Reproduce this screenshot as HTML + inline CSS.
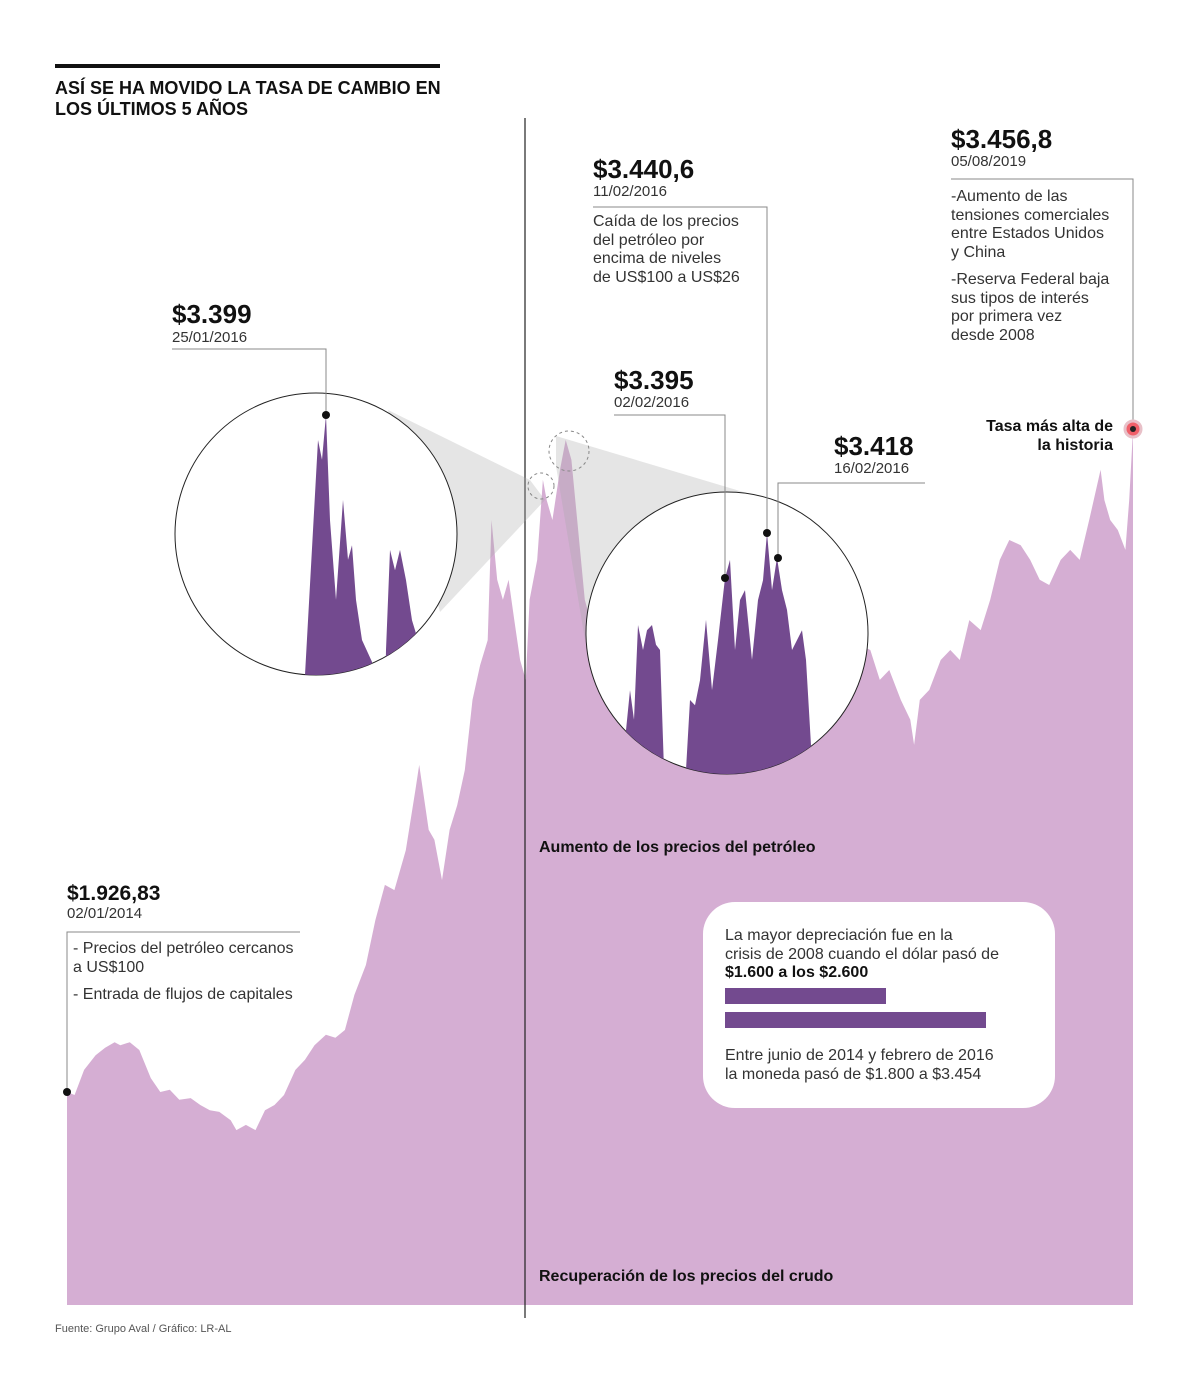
<!DOCTYPE html>
<html><head><meta charset="utf-8"><style>
html,body{margin:0;padding:0;background:#fff}
body{width:1200px;height:1400px;position:relative;overflow:hidden;font-family:"Liberation Sans",sans-serif;color:#111}
svg{position:absolute;left:0;top:0}
.t{position:absolute;white-space:nowrap}
.big{font-weight:bold;font-size:26px;line-height:28px}
.date{font-size:15px;line-height:16px;color:#333}
.body{font-size:16px;line-height:18.5px;color:#333}
.lbl{font-weight:bold;font-size:16px;line-height:19px}
</style></head><body>
<svg id="chart" width="1200" height="1400"></svg>

<div class="t" style="left:55px;top:78px;font-weight:bold;font-size:18px;line-height:21px">ASÍ SE HA MOVIDO LA TASA DE CAMBIO EN<br>LOS ÚLTIMOS 5 AÑOS</div>

<div class="t big" style="left:172px;top:300px">$3.399</div>
<div class="t date" style="left:172px;top:330px">25/01/2016</div>

<div class="t big" style="left:593px;top:155px">$3.440,6</div>
<div class="t date" style="left:593px;top:184px">11/02/2016</div>
<div class="t body" style="left:593px;top:213px">Caída de los precios<br>del petróleo por<br>encima de niveles<br>de US$100 a US$26</div>

<div class="t big" style="left:951px;top:125px">$3.456,8</div>
<div class="t date" style="left:951px;top:154px">05/08/2019</div>
<div class="t body" style="left:951px;top:188px">-Aumento de las<br>tensiones comerciales<br>entre Estados Unidos<br>y China</div>
<div class="t body" style="left:951px;top:271px">-Reserva Federal baja<br>sus tipos de interés<br>por primera vez<br>desde 2008</div>

<div class="t big" style="left:614px;top:366px">$3.395</div>
<div class="t date" style="left:614px;top:395px">02/02/2016</div>

<div class="t big" style="left:834px;top:432px">$3.418</div>
<div class="t date" style="left:834px;top:461px">16/02/2016</div>

<div class="t lbl" style="left:960px;top:417px;text-align:right;width:153px;line-height:19px">Tasa más alta de<br>la historia</div>

<div class="t" style="left:67px;top:882px;font-weight:bold;font-size:21px;line-height:24px">$1.926,83</div>
<div class="t date" style="left:67px;top:906px">02/01/2014</div>
<div class="t body" style="left:73px;top:940px">- Precios del petróleo cercanos<br>a US$100</div>
<div class="t body" style="left:73px;top:986px">- Entrada de flujos de capitales</div>

<div class="t lbl" style="left:539px;top:838px">Aumento de los precios del petróleo</div>
<div class="t lbl" style="left:539px;top:1267px">Recuperación de los precios del crudo</div>

<div class="t" style="left:703px;top:902px;width:352px;height:206px;background:#fff;border-radius:32px"></div>
<div class="t body" style="left:725px;top:927px">La mayor depreciación fue en la<br>crisis de 2008 cuando el dólar pasó de<br><b style="color:#111">$1.600 a los $2.600</b></div>
<div class="t" style="left:725px;top:988px;width:161px;height:16px;background:#734a8f"></div>
<div class="t" style="left:725px;top:1012px;width:261px;height:16px;background:#734a8f"></div>
<div class="t body" style="left:725px;top:1047px">Entre junio de 2014 y febrero de 2016<br>la moneda pasó de $1.800 a $3.454</div>

<div class="t" style="left:55px;top:1323px;font-size:11px;color:#555">Fuente: Grupo Aval / Gráfico: LR-AL</div>

<script>
const years=[2014.00,2014.04,2014.09,2014.15,2014.20,2014.25,2014.28,2014.33,2014.38,2014.44,2014.49,2014.54,2014.59,2014.65,2014.70,2014.75,2014.80,2014.86,2014.89,2014.94,2014.99,2015.04,2015.09,2015.14,2015.20,2015.25,2015.30,2015.36,2015.41,2015.46,2015.51,2015.57,2015.62,2015.67,2015.72,2015.78,2015.83,2015.85,2015.90,2015.93,2015.97,2016.01,2016.05,2016.09,2016.13,2016.17,2016.21,2016.23,2016.26,2016.29,2016.32,2016.35,2016.38,2016.41,2016.43,2016.47,2016.50,2016.52,2016.55,2016.59,2016.62,2016.65,2016.68,2016.72,2016.75,2016.80,2016.90,2017.06,2017.33,2017.59,2017.85,2018.11,2018.22,2018.27,2018.32,2018.38,2018.43,2018.45,2018.48,2018.53,2018.59,2018.64,2018.69,2018.74,2018.80,2018.85,2018.90,2018.95,2019.01,2019.06,2019.11,2019.16,2019.22,2019.27,2019.32,2019.37,2019.43,2019.45,2019.48,2019.52,2019.56,2019.58,2019.60];
const rates=[1927,1920,1978,2012,2029,2042,2035,2042,2024,1959,1927,1932,1909,1913,1897,1885,1881,1862,1839,1851,1839,1885,1897,1920,1978,2001,2035,2059,2052,2070,2151,2220,2324,2405,2393,2485,2624,2682,2532,2509,2416,2532,2589,2670,2832,2912,2970,3247,3109,3063,3109,3016,2924,2878,3063,3155,3340,3293,3247,3363,3432,3386,3247,3063,3016,3063,3109,3016,2970,3016,2947,2970,2947,2878,2901,2832,2786,2728,2832,2855,2924,2947,2924,3016,2993,3063,3155,3201,3189,3155,3109,3097,3155,3178,3155,3247,3363,3293,3247,3224,3178,3293,3455];
const zoomLeftDays=[5,5,18,22,26,30,36,43,48,52,56,62,72,73,85,86,90,95,100,106,112,118,130];
const zoomLeftVals=[2850,2900,3351,3313,3399,3197,3044,3236,3121,3149,3044,2967,2925,2850,2850,2948,3140,3101,3140,3082,3005,2967,2900];
const zoomRightDays=[26,26,30,34,38,43,47,52,56,60,65,86,86,90,95,100,106,112,118,125,130,135,140,145,152,158,163,167,172,177,182,187,192,197,202,206,211,213];
const zoomRightVals=[2928,3062,3139,3082,3264,3216,3254,3264,3226,3216,2928,2928,2986,3120,3110,3158,3274,3139,3235,3354,3389,3216,3312,3331,3197,3312,3350,3441,3331,3393,3331,3293,3216,3235,3254,3197,3033,2928];

const NS='http://www.w3.org/2000/svg';
const svg=document.getElementById('chart');
function mk(tag,attrs){const e=document.createElementNS(NS,tag);for(const k in attrs)e.setAttribute(k,attrs[k]);svg.appendChild(e);return e;}
const x=t=>67+(t-2014)/(2019.60-2014)*1066;
const y=v=>1092-(v-1927)*0.4333;
const base=1305;
// main area
let d='M'+x(years[0])+','+base;
years.forEach((t,i)=>{d+=' L'+x(t).toFixed(1)+','+y(rates[i]).toFixed(1);});
d+=' L'+x(years[years.length-1])+','+base+' Z';
const area=mk('path',{d:d,fill:'#d5aed3'});


// divider line
const vl=mk('line',{x1:525,y1:118,x2:525,y2:1318,stroke:'#222','stroke-width':1.2});


// title rule
const tr=mk('rect',{x:55,y:64,width:385,height:4,fill:'#111'});


// cones
const c1=mk('polygon',{points:'388,410 530,480 545,500 440,612',fill:'rgba(170,170,170,0.3)'});


const c2=mk('polygon',{points:'556,436 750,494 585,640 556,466',fill:'rgba(170,170,170,0.3)'});


// small dashed circles
const s1=mk('circle',{cx:541,cy:486,r:13,fill:'none',stroke:'#888','stroke-dasharray':'3,3'});


const s2=mk('circle',{cx:569,cy:451,r:20,fill:'none',stroke:'#888','stroke-dasharray':'3,3'});


// clip defs
const defs=mk('defs',{});
defs.innerHTML='<clipPath id="cl"><circle cx="316" cy="534" r="141"/></clipPath><clipPath id="cr"><circle cx="727" cy="633" r="141"/></clipPath>';
function zoomCircle(cx,cy,clip,days,vals,x0,refV,refY,name){
  const c=mk('circle',{cx:cx,cy:cy,r:141,fill:'#fff',stroke:'#222','stroke-width':1});
  
  
  const zy=v=>refY-(v-refV)/1.92;
  let p='';days.forEach((dd,i)=>{p+=(i?' L':'M')+(x0+dd)+','+zy(vals[i]).toFixed(1);});p+=' Z';
  const a=mk('path',{d:p,fill:'#734a8f','clip-path':'url(#'+clip+')'});
  
  
}
zoomCircle(316,534,'cl',zoomLeftDays,zoomLeftVals,300,3399,415,'zoom-left');
zoomCircle(727,633,'cr',zoomRightDays,zoomRightVals,600,3440.6,533,'zoom-right');
// leaders
const leaders=[
 ['leader-3399','172,349 326,349 326,415',[326,415]],
 ['leader-3440','593,207 767,207 767,533',[767,533]],
 ['leader-3395','614,415 725,415 725,578',[725,578]],
 ['leader-3418','925,483 778,483 778,558',[778,558]],
 ['leader-3456','951,179 1133,179 1133,429',null],
 ['leader-1926','300,932 67,932 67,1092',[67,1092]]
];
leaders.forEach(l=>{
  const pl=mk('polyline',{points:l[1],fill:'none',stroke:'#888','stroke-width':1});
  
  
  if(l[2]){const dt=mk('circle',{cx:l[2][0],cy:l[2][1],r:4,fill:'#111'});
  
  }
});
const hd=mk('circle',{cx:1133,cy:429,r:8,fill:'#f0606a',stroke:'#e8c0c8','stroke-width':3});


const hd2=mk('circle',{cx:1133,cy:429,r:3,fill:'#222'});


</script>
</body></html>
